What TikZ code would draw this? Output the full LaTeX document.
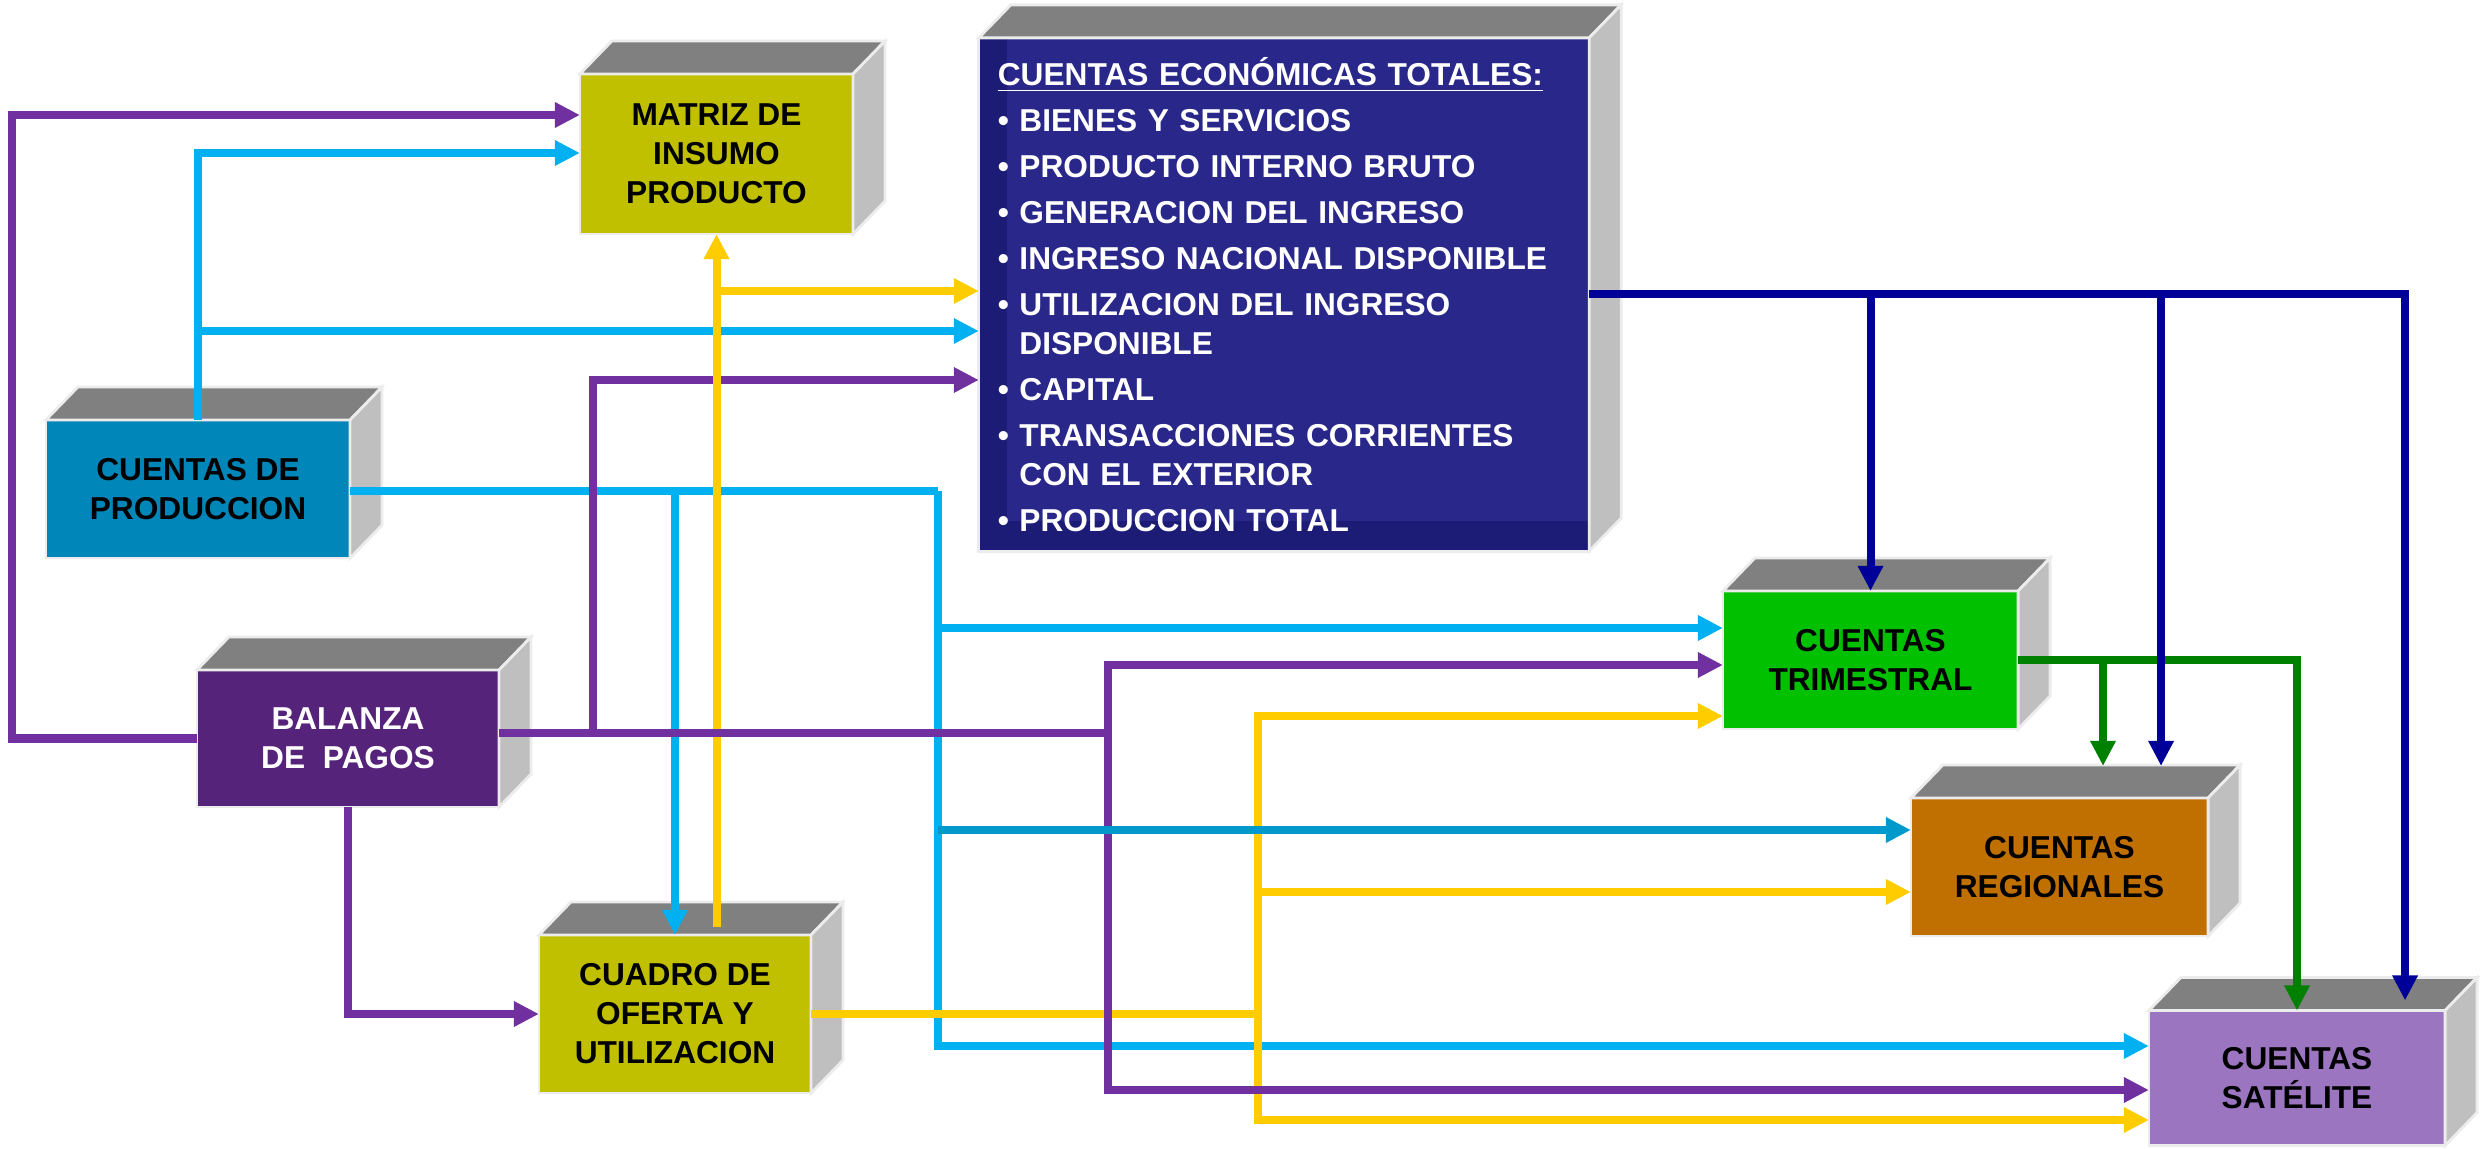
\documentclass[tikz,border=0pt]{standalone}
\usepackage{fontspec}
\setmainfont{Liberation Sans}
\usepackage{tikz}
\usetikzlibrary{arrows.meta}

\definecolor{olivebox}{RGB}{192,192,0}
\definecolor{prodblue}{RGB}{0,134,185}
\definecolor{balpurple}{RGB}{86,35,122}
\definecolor{cetblue}{RGB}{41,40,138}
\definecolor{cetdark}{RGB}{28,27,118}
\definecolor{trigreen}{RGB}{0,192,0}
\definecolor{regorange}{RGB}{192,112,0}
\definecolor{satlilac}{RGB}{155,117,192}
\definecolor{topgray}{RGB}{128,128,128}
\definecolor{sidegray}{RGB}{191,191,191}
\definecolor{lpurple}{RGB}{112,48,160}
\definecolor{lblue}{RGB}{0,176,240}
\definecolor{lblue2}{RGB}{0,153,204}
\definecolor{lyellow}{RGB}{255,204,0}
\definecolor{lnavy}{RGB}{0,0,153}
\definecolor{lgreen}{RGB}{0,128,0}

\tikzset{
  topface/.style={fill=topgray, draw=gray!15, line width=0.8pt},
  sideface/.style={fill=sidegray, draw=gray!15, line width=0.8pt}
}
\newcommand{\boxsides}[1]{%
  \filldraw[topface] (#1.north west) -- ++(32,-33) -- ([shift={(32,-33)}]#1.north east) -- (#1.north east) -- cycle;
  \filldraw[sideface] (#1.north east) -- ++(32,-33) -- ([shift={(32,-33)}]#1.south east) -- (#1.south east) -- cycle;}

\begin{document}
\begin{tikzpicture}[x=0.01cm, y=-0.01cm, >={Triangle[length=0.25cm, width=0.24cm]}]
  \tikzstyle{face}=[draw=gray!15, line width=0.8pt, align=center, inner sep=0pt, outer sep=0pt, font=\bfseries\fontsize{9}{11.1}\selectfont]
  \tikzstyle{pline}=[draw=lpurple, line width=0.08cm]
  \tikzstyle{bline}=[draw=lblue, line width=0.08cm]
  \tikzstyle{yline}=[draw=lyellow, line width=0.08cm]
  \tikzstyle{nline}=[draw=lnavy, line width=0.08cm]
  \tikzstyle{gline}=[draw=lgreen, line width=0.08cm]
  \useasboundingbox (0,0) rectangle (2484,1149);

  \node[face, fill=olivebox, minimum width=2.73cm, minimum height=1.60cm] (mat) at (716.5,154) {MATRIZ DE\\INSUMO\\PRODUCTO};
  \node[face, fill=cetblue, text=white, minimum width=6.10cm, minimum height=5.13cm, text width=5.72cm, align=left,
    path picture={\fill[cetdark] (path picture bounding box.south west) rectangle ([xshift=0.28cm]path picture bounding box.north west);
      \fill[cetdark] (path picture bounding box.south west) rectangle ([yshift=0.30cm]path picture bounding box.south east);}] (cet) at (1284,294.5)
    {\underline{CUENTAS ECONÓMICAS TOTALES:}\\[2pt]
     \textbullet\ BIENES Y SERVICIOS\\[2pt]
     \textbullet\ PRODUCTO INTERNO BRUTO\\[2pt]
     \textbullet\ GENERACION DEL INGRESO\\[2pt]
     \textbullet\ INGRESO NACIONAL DISPONIBLE\\[2pt]
     \textbullet\ UTILIZACION DEL INGRESO\\
     \phantom{\textbullet\ }DISPONIBLE\\[2pt]
     \textbullet\ CAPITAL\\[2pt]
     \textbullet\ TRANSACCIONES CORRIENTES\\
     \phantom{\textbullet\ }CON EL EXTERIOR\\[2pt]
     \textbullet\ PRODUCCION TOTAL};
  \node[face, fill=prodblue, minimum width=3.04cm, minimum height=1.38cm] (pro) at (198,489) {CUENTAS DE\\PRODUCCION};
  \node[face, fill=balpurple, text=white, minimum width=3.02cm, minimum height=1.37cm] (bal) at (348,738.5) {BALANZA\\DE\ \ PAGOS};
  \node[face, fill=olivebox, minimum width=2.72cm, minimum height=1.58cm] (cua) at (675,1014) {CUADRO DE\\OFERTA Y\\UTILIZACION};
  \node[face, fill=trigreen, minimum width=2.95cm, minimum height=1.38cm] (tri) at (1870.5,660) {CUENTAS\\TRIMESTRAL};
  \node[face, fill=regorange, minimum width=2.97cm, minimum height=1.38cm] (reg) at (2059.5,867) {CUENTAS\\REGIONALES};
  \node[face, fill=satlilac, minimum width=2.96cm, minimum height=1.35cm] (sat) at (2297,1078) {CUENTAS\\SATÉLITE};
  \foreach \b in {mat,cet,pro,bal,cua,tri,reg,sat} {\boxsides{\b}}

  \coordinate (bv) at (938,491);
  \coordinate (pv1) at (593,733);
  \coordinate (pv2) at (1108,733);
  \coordinate (yv) at (cua.east -| 1258,0);
  \coordinate (regG) at ([xshift=0.435cm,yshift=0.32cm]reg.north);
  \coordinate (regN) at ([xshift=1.015cm,yshift=0.32cm]reg.north);
  \coordinate (satN) at ([xshift=1.08cm,yshift=0.10cm]sat.north);

  \draw[bline,->] (pro.north) |- (mat.west |- 0,153);
  \draw[bline,->] (pro.north |- 0,331) -- (cet.west |- 0,331);
  \draw[bline] (pro.east |- bv) -- (bv);
  \draw[bline,->] (cua.north |- bv) -- (cua.north);
  \draw[bline,->] (bv) |- (tri.west |- 0,628);
  \draw[bline,->] (bv) |- (sat.west |- 0,1046);

  \draw[pline,->] (pv1) |- (cet.west |- 0,380);

  \draw[yline,->] ([yshift=0.08cm]cua.north -| mat.south) -- (mat.south);
  \draw[yline,->] (mat.south |- 0,291) -- (cet.west |- 0,291);
  \draw[yline] (cua.east) -- (yv);
  \draw[yline,->] (yv) |- (tri.west |- 0,716);
  \draw[yline,->] (yv) |- (reg.west |- 0,892);
  \draw[yline,->] (yv) |- (sat.west |- 0,1120);

  \draw[pline,->] (bal.west) -| (12,115) -- (mat.west |- 0,115);
  \draw[pline] (bal.east |- pv2) -- (pv2);
  \draw[pline,->] (pv2) |- (tri.west |- 0,665);
  \draw[pline,->] (pv2) |- (sat.west |- 0,1090);
  \draw[pline,->] (bal.south) |- (cua.west);

  \draw[bline, draw=lblue2,->] (bv |- 0,830) -- (reg.west |- 0,830);

  \draw[gline,->] (tri.east) -| (sat.north);
  \draw[gline,->] (tri.east -| regG) -- (regG);

  \draw[nline,->] (cet.east) -| (satN);
  \draw[nline,->] (tri.north |- cet.east) -- (tri.north);
  \draw[nline,->] (regN |- cet.east) -- (regN);
\end{tikzpicture}
\end{document}
